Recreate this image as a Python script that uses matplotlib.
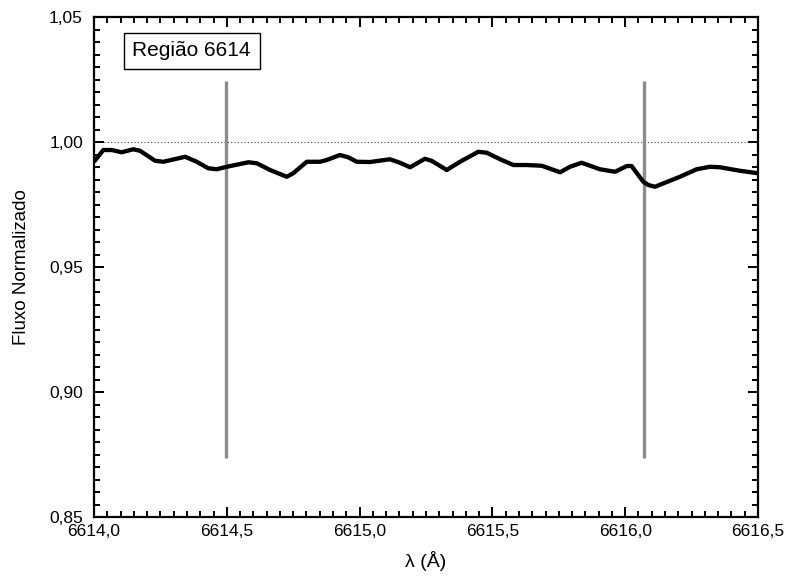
#!/usr/bin/env python3
"""Espectro normalizado na região 6614 Å com marcação das linhas."""
import matplotlib
matplotlib.use('Agg')
import matplotlib.pyplot as plt
from matplotlib.ticker import MultipleLocator, FuncFormatter

plt.rcParams['font.family'] = ['Liberation Sans', 'DejaVu Sans']

# comprimento de onda (Å) e fluxo normalizado
wave = [6614.000, 6614.035, 6614.067, 6614.104, 6614.148, 6614.173, 6614.230,
        6614.261, 6614.343, 6614.387, 6614.430, 6614.462, 6614.500, 6614.581,
        6614.613, 6614.663, 6614.726, 6614.750, 6614.801, 6614.851, 6614.876,
        6614.926, 6614.957, 6614.989, 6615.039, 6615.114, 6615.152, 6615.190,
        6615.246, 6615.271, 6615.328, 6615.378, 6615.447, 6615.479, 6615.529,
        6615.579, 6615.629, 6615.686, 6615.755, 6615.792, 6615.836, 6615.905,
        6615.962, 6616.006, 6616.024, 6616.068, 6616.087, 6616.112, 6616.206,
        6616.269, 6616.319, 6616.357, 6616.432, 6616.500]
flux = [0.9921, 0.9968, 0.9968, 0.9959, 0.9971, 0.9965, 0.9925,
        0.9921, 0.9941, 0.9921, 0.9895, 0.9891, 0.9901, 0.9919,
        0.9915, 0.9888, 0.9861, 0.9875, 0.9921, 0.9921, 0.9928,
        0.9948, 0.9939, 0.9921, 0.9920, 0.9931, 0.9917, 0.9899,
        0.9933, 0.9925, 0.9888, 0.9921, 0.9961, 0.9957, 0.9931,
        0.9908, 0.9908, 0.9905, 0.9879, 0.9901, 0.9917, 0.9891,
        0.9881, 0.9904, 0.9904, 0.9841, 0.9828, 0.9821, 0.9861,
        0.9891, 0.9901, 0.9899, 0.9885, 0.9875]

# posições das linhas marcadas e sua extensão vertical
lines_x = [6614.497, 6616.070]
line_ymin, line_ymax = 0.8735, 1.0245

fig = plt.figure(figsize=(7.9, 5.83), dpi=100)
ax = fig.add_axes([0.119, 0.1132, 0.8405, 0.8576])

ax.axhline(1.0, color='#444444', ls=(0, (1, 2)), lw=0.8, zorder=1)
for lx in lines_x:
    ax.plot([lx, lx], [line_ymin, line_ymax], color='#8c8c8c', lw=2.4,
            solid_capstyle='butt', zorder=2)
ax.plot(wave, flux, color='black', lw=3.1, solid_joinstyle='round',
        solid_capstyle='butt', zorder=3)

ax.text(6614.144, 1.0365, 'Região 6614', fontsize=15, ha='left', va='center',
        bbox=dict(boxstyle='square,pad=0.42', fc='white', ec='black', lw=1.0))

ax.set_xlim(6614.0, 6616.5)
ax.set_ylim(0.85, 1.05)
ax.xaxis.set_major_locator(MultipleLocator(0.5))
ax.xaxis.set_minor_locator(MultipleLocator(0.05))
ax.yaxis.set_major_locator(MultipleLocator(0.05))
ax.yaxis.set_minor_locator(MultipleLocator(0.005))
ax.xaxis.set_major_formatter(FuncFormatter(lambda v, p: f'{v:.1f}'.replace('.', ',')))
ax.yaxis.set_major_formatter(FuncFormatter(lambda v, p: f'{v:.2f}'.replace('.', ',')))
ax.tick_params(which='both', direction='in', top=True, right=True, width=1.4,
               labelsize=12.5)
ax.tick_params(which='major', length=7)
ax.tick_params(which='minor', length=4)
ax.tick_params(axis='x', which='major', pad=5)
ax.tick_params(axis='y', which='major', pad=8)
for s in ax.spines.values():
    s.set_linewidth(1.6)

ax.set_xlabel('λ (Å)', fontsize=14, labelpad=9)
ax.set_ylabel('Fluxo Normalizado', fontsize=13.5, labelpad=14)

fig.savefig('out.png', dpi=100)
